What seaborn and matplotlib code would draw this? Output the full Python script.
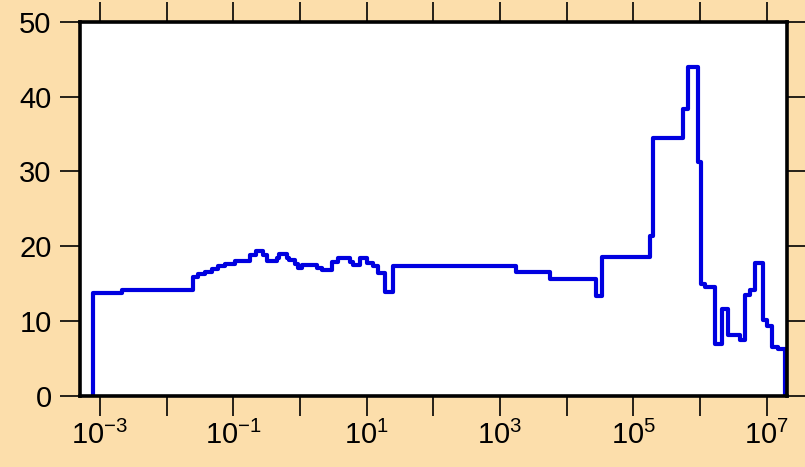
import numpy as np
import pandas as pd
import seaborn as sns
import matplotlib.pyplot as plt
from matplotlib.ticker import FixedLocator, FixedFormatter, NullLocator

# bin edges (x) and step values (y)
edges = [7.85e-4, 2.14e-3, 0.0248, 0.0295, 0.0376, 0.0479, 0.0589, 0.075, 0.106,
         0.178, 0.219, 0.279, 0.32, 0.452, 0.484, 0.638, 0.684, 0.841, 0.933,
         1.07, 1.8, 2.14, 3.02, 3.72, 5.62, 6.24, 7.94, 10.1, 12.4, 14.8, 18.8,
         24.8, 1740, 5620, 27500, 33900, 1.78e5, 1.97e5, 5.56e5, 6.61e5, 9.33e5,
         1.04e6, 1.2e6, 1.68e6, 2.14e6, 2.63e6, 3.98e6, 4.73e6, 5.62e6, 6.68e6,
         8.81e6, 1.01e7, 1.2e7, 1.48e7, 1.88e7]
values = [13.76, 14.16, 15.86, 16.3, 16.5, 16.9, 17.3, 17.6, 18.1, 18.8, 19.4,
          18.8, 18.1, 18.5, 19.0, 18.4, 18.2, 17.6, 17.1, 17.5, 17.1, 16.8, 17.9,
          18.4, 17.9, 17.5, 18.5, 17.7, 17.3, 16.4, 13.9, 17.3, 16.6, 15.6, 13.3,
          18.6, 21.4, 34.4, 38.4, 43.9, 31.2, 14.9, 14.5, 7.0, 11.6, 8.1, 7.5,
          13.5, 14.2, 17.7, 10.2, 9.4, 6.6, 6.3]

xtick_exps = list(range(-3, 8))
xtick_labels = [r'$\mathdefault{10^{%d}}$' % e if e % 2 else '' for e in xtick_exps]
yticks = [0, 10, 20, 30, 40, 50]

sns.set_style('ticks')
plt.rcParams['font.family'] = ['Liberation Sans', 'DejaVu Sans']
plt.rcParams['mathtext.fontset'] = 'custom'
plt.rcParams['mathtext.rm'] = 'Liberation Sans'
plt.rcParams['mathtext.it'] = 'Liberation Sans'
plt.rcParams['mathtext.bf'] = 'Liberation Sans'
plt.rcParams['axes.unicode_minus'] = False
plt.rcParams['text.color'] = 'black'
plt.rcParams['xtick.labelcolor'] = 'black'
plt.rcParams['ytick.labelcolor'] = 'black'

xs = [edges[0]] + edges
ys = [0] + values + [0]
df = pd.DataFrame({'x': xs, 'y': ys})

fig = plt.figure(figsize=(8.05, 4.67), dpi=100, facecolor='#FCDEAB')
ax = fig.add_axes([80 / 805, 71 / 467, 706.7 / 805, 374.3 / 467])
ax.set_facecolor('white')
ax.set_xscale('log')

sns.lineplot(data=df, x='x', y='y', estimator=None, sort=False,
             drawstyle='steps-post', color='#0000E0', linewidth=3.0, ax=ax)

ax.set_xlim(10 ** -3.3, 10 ** 7.3)
ax.set_ylim(0, 50)
ax.xaxis.set_major_locator(FixedLocator([10.0 ** e for e in xtick_exps]))
ax.xaxis.set_major_formatter(FixedFormatter(xtick_labels))
ax.xaxis.set_minor_locator(NullLocator())
ax.set_yticks(yticks)
ax.set_xlabel('')
ax.set_ylabel('')

for s in ax.spines.values():
    s.set_visible(True)
    s.set_linewidth(2.6)
    s.set_color('black')

ax.tick_params(axis='both', which='major', direction='out', length=14.5,
               width=1.2, color='black', labelcolor='black', labelsize=21,
               top=True, right=True, labeltop=False, labelright=False)
ax.tick_params(axis='y', pad=6)
ax.tick_params(axis='x', pad=3)

fig.savefig('out.png', dpi=100, facecolor=fig.get_facecolor())
